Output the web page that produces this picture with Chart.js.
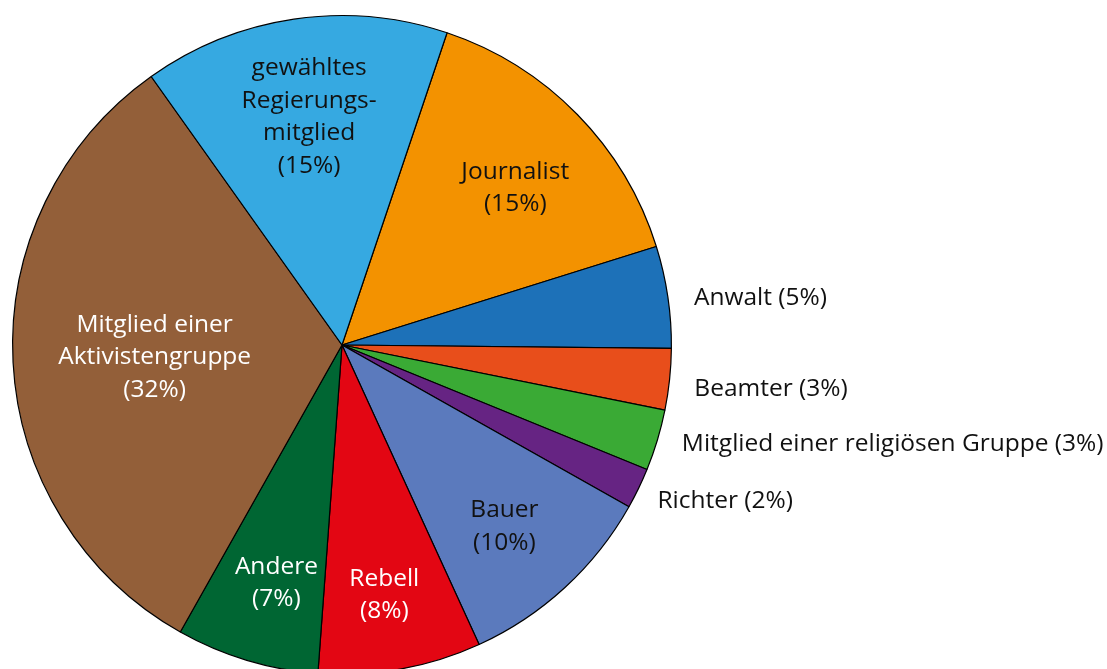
<!DOCTYPE html>
<html>
<head>
<meta charset="utf-8">
<script src="https://cdn.jsdelivr.net/npm/chart.js@4.4.0/dist/chart.umd.min.js"></script>
<style>
  html, body { margin: 0; padding: 0; background: #fff; overflow: hidden; }
  #wrap { position: absolute; left: 0; top: 0; width: 1107px; height: 690px; }
</style>
</head>
<body>
<div id="wrap"><canvas id="pie"></canvas></div>
<script>
// data
const categories = ['Journalist', 'Anwalt', 'Beamter', 'Mitglied einer religiösen Gruppe', 'Richter',
    'Bauer', 'Rebell', 'Andere', 'Mitglied einer Aktivistengruppe', 'gewähltes Regierungsmitglied'];
const shares = [15, 5, 3, 3, 2, 10, 8, 7, 32, 15];
const sliceColors = ['#f39200', '#1d71b8', '#e84e1b', '#3aaa35', '#662483',
    '#5b7abd', '#e30613', '#006633', '#935f39', '#36a9e1'];

// label text lines per slice (the "(x%)" line is added from shares)
const labelLines = [['Journalist'], ['Anwalt'], ['Beamter'], ['Mitglied einer religiösen Gruppe'], ['Richter'],
    ['Bauer'], ['Rebell'], ['Andere'], ['Mitglied einer', 'Aktivistengruppe'], ['gewähltes', 'Regierungs-', 'mitglied']];

// label placement: angle from top (deg, clockwise), radius fraction, inside/outside, text colour
const labelPlace = [
    { a: 47.8, r: 0.71, inside: true, color: '#111' },
    { a: 82.4, r: 1.078, inside: false },
    { a: 97.1, r: 1.078, inside: false },
    { a: 106.3, r: 1.075, inside: false },
    { a: 116.3, r: 1.068, inside: false },
    { a: 138.2, r: 0.74, inside: true, color: '#111' },
    { a: 170.4, r: 0.77, inside: true, color: '#ffffff' },
    { a: 195.4, r: 0.75, inside: true, color: '#ffffff' },
    { a: 266.3, r: 0.57, inside: true, color: '#ffffff' },
    { a: 351.8, r: 0.70, inside: true, color: '#111' }
];

const FONT = '24.5px "Open Sans", "Noto Sans", sans-serif';

const sliceLabels = {
    id: 'sliceLabels',
    afterDatasetsDraw(chart) {
        const ctx = chart.ctx;
        const arc0 = chart.getDatasetMeta(0).data[0];
        const cx = arc0.x, cy = arc0.y, R = arc0.outerRadius;
        ctx.save();
        ctx.font = FONT;
        ctx.textBaseline = 'middle';
        labelPlace.forEach((p, i) => {
            const rad = (p.a - 90) * Math.PI / 180;
            const x = cx + Math.cos(rad) * R * p.r;
            const y = cy + Math.sin(rad) * R * p.r;
            if (p.inside) {
                const lines = labelLines[i].concat(['(' + shares[i] + '%)']);
                const lh = 32.5;
                ctx.fillStyle = p.color;
                ctx.textAlign = 'center';
                lines.forEach((t, k) => ctx.fillText(t, x, y + (k - (lines.length - 1) / 2) * lh));
            } else {
                ctx.fillStyle = '#111';
                ctx.textAlign = 'left';
                ctx.fillText(labelLines[i][0] + ' (' + shares[i] + '%)', x, y);
            }
        });
        ctx.restore();
    }
};

new Chart(document.getElementById('pie'), {
    type: 'pie',
    data: {
        labels: categories,
        datasets: [{ data: shares, backgroundColor: sliceColors, borderColor: '#000', borderWidth: 1.2 }]
    },
    options: {
        responsive: true,
        maintainAspectRatio: false,
        animation: false,
        rotation: 18.6,
        layout: { padding: { left: 12, right: 435, top: 15, bottom: 15 } },
        plugins: { legend: { display: false }, tooltip: { enabled: false } }
    },
    plugins: [sliceLabels]
});
</script>
</body>
</html>
